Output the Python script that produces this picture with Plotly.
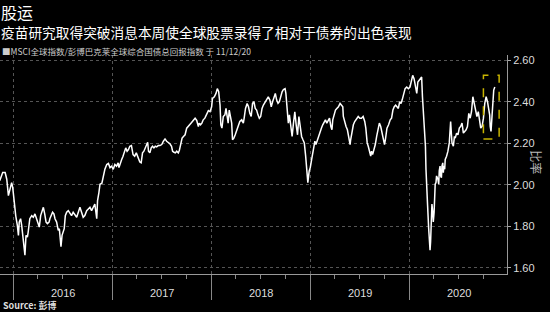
import plotly.graph_objects as go

# ---- data ----
dates = [
"2015-11-12","2015-11-23","2015-12-02","2015-12-08","2015-12-14","2015-12-20","2015-12-26","2015-12-30",
"2016-01-04","2016-01-10","2016-01-16","2016-01-20","2016-01-23","2016-01-28","2016-02-01","2016-02-05",
"2016-02-09","2016-02-13","2016-02-17","2016-02-22","2016-02-25","2016-03-02","2016-03-09","2016-03-15",
"2016-03-21","2016-03-27","2016-04-02","2016-04-06","2016-04-11","2016-04-16","2016-04-21","2016-04-26",
"2016-05-01","2016-05-06","2016-05-12","2016-05-15","2016-05-21","2016-05-25","2016-05-30","2016-06-03",
"2016-06-09","2016-06-15","2016-06-19","2016-06-21","2016-06-25","2016-06-29","2016-07-04","2016-07-07",
"2016-07-11","2016-07-16","2016-07-22","2016-07-28","2016-08-03","2016-08-09","2016-08-16","2016-08-22",
"2016-08-28","2016-09-03","2016-09-09","2016-09-15","2016-09-21","2016-09-28","2016-10-04","2016-10-10",
"2016-10-16","2016-10-22","2016-10-28","2016-11-04","2016-11-07","2016-11-12","2016-11-16","2016-11-23",
"2016-11-28","2016-12-04","2016-12-11","2016-12-17","2016-12-23","2016-12-29",
"2017-01-04","2017-01-10","2017-01-16","2017-01-22","2017-01-25","2017-01-30","2017-02-04","2017-02-09",
"2017-02-14","2017-02-19","2017-02-24","2017-03-01","2017-03-06","2017-03-12","2017-03-18","2017-03-24",
"2017-03-30","2017-04-05","2017-04-12","2017-04-17","2017-04-22","2017-04-27","2017-05-02","2017-05-07",
"2017-05-11","2017-05-14","2017-05-19","2017-05-24","2017-05-29","2017-06-03","2017-06-08","2017-06-13",
"2017-06-19","2017-06-25","2017-07-02","2017-07-08","2017-07-14","2017-07-20","2017-07-26","2017-08-01",
"2017-08-07","2017-08-11","2017-08-16","2017-08-21","2017-08-26","2017-09-01","2017-09-05","2017-09-10",
"2017-09-15","2017-09-20","2017-09-26","2017-10-02","2017-10-08","2017-10-14","2017-10-20","2017-10-26",
"2017-11-02","2017-11-08","2017-11-14","2017-11-17","2017-11-22","2017-11-27","2017-12-02","2017-12-08",
"2017-12-14","2017-12-21","2017-12-27",
"2018-01-02","2018-01-05","2018-01-12","2018-01-18","2018-01-23","2018-01-28","2018-02-02","2018-02-05",
"2018-02-09","2018-02-14","2018-02-20","2018-02-24","2018-03-01","2018-03-04","2018-03-08","2018-03-13",
"2018-03-17","2018-03-20","2018-03-25","2018-03-30","2018-04-04","2018-04-10","2018-04-16","2018-04-23",
"2018-04-29","2018-05-02","2018-05-07","2018-05-13","2018-05-18","2018-05-23","2018-05-28","2018-06-02",
"2018-06-07","2018-06-12","2018-06-17","2018-06-22","2018-06-27","2018-07-02","2018-07-07","2018-07-12",
"2018-07-18","2018-07-24","2018-07-30","2018-08-05","2018-08-10","2018-08-15","2018-08-20","2018-08-25",
"2018-08-30","2018-09-04","2018-09-09","2018-09-14","2018-09-19","2018-09-24","2018-09-30","2018-10-03",
"2018-10-08","2018-10-12","2018-10-16","2018-10-21","2018-10-26","2018-10-31","2018-11-05","2018-11-10",
"2018-11-15","2018-11-20","2018-11-25","2018-11-30","2018-12-05","2018-12-10","2018-12-15","2018-12-20",
"2018-12-23","2018-12-28",
"2019-01-01","2019-01-06","2019-01-09","2019-01-14","2019-01-18","2019-01-22","2019-01-27","2019-02-01",
"2019-02-06","2019-02-11","2019-02-16","2019-02-21","2019-02-26","2019-03-03","2019-03-08","2019-03-13",
"2019-03-18","2019-03-22","2019-03-25","2019-03-30","2019-04-04","2019-04-09","2019-04-15","2019-04-21",
"2019-04-26","2019-05-01","2019-05-03","2019-05-08","2019-05-13","2019-05-18","2019-05-23","2019-05-28",
"2019-05-30","2019-06-04","2019-06-09","2019-06-14","2019-06-21","2019-06-27","2019-07-03","2019-07-09",
"2019-07-15","2019-07-21","2019-07-25","2019-07-30","2019-08-03","2019-08-07","2019-08-12","2019-08-15",
"2019-08-19","2019-08-24","2019-08-29","2019-09-03","2019-09-08","2019-09-13","2019-09-18","2019-09-23",
"2019-09-28","2019-10-02","2019-10-06","2019-10-11","2019-10-17","2019-10-23","2019-10-28","2019-11-02",
"2019-11-07","2019-11-12","2019-11-17","2019-11-22","2019-11-27","2019-12-02","2019-12-06","2019-12-11",
"2019-12-17","2019-12-23","2019-12-29",
"2020-01-04","2020-01-10","2020-01-14","2020-01-19","2020-01-24","2020-01-29","2020-02-02","2020-02-07",
"2020-02-11","2020-02-16","2020-02-19","2020-02-23","2020-02-27","2020-03-01","2020-03-03","2020-03-06",
"2020-03-09","2020-03-13","2020-03-15","2020-03-18","2020-03-20","2020-03-23","2020-03-25","2020-03-28",
"2020-03-30","2020-04-02","2020-04-04","2020-04-06","2020-04-09","2020-04-11","2020-04-16","2020-04-19",
"2020-04-21","2020-04-24","2020-04-26","2020-04-29","2020-05-01","2020-05-04","2020-05-06","2020-05-08",
"2020-05-11","2020-05-13","2020-05-18","2020-05-23","2020-05-28","2020-05-31","2020-06-02","2020-06-05",
"2020-06-07","2020-06-12","2020-06-16","2020-06-19","2020-06-24","2020-06-29","2020-07-04","2020-07-09",
"2020-07-14","2020-07-19","2020-07-24","2020-07-29","2020-08-03","2020-08-08","2020-08-13","2020-08-18",
"2020-08-23","2020-08-28","2020-09-02","2020-09-07","2020-09-12","2020-09-17","2020-09-21","2020-09-26",
"2020-10-01","2020-10-06","2020-10-11","2020-10-16","2020-10-20","2020-10-24","2020-10-26","2020-10-29",
"2020-11-02","2020-11-06","2020-11-08","2020-11-12",
]

ratio = [
2.020,2.059,2.059,2.027,1.948,1.987,2.011,1.987,
1.916,1.852,1.805,1.757,1.821,1.837,1.805,1.749,
1.710,1.662,1.757,1.749,1.773,1.837,1.852,1.844,
1.860,1.837,1.821,1.797,1.852,1.868,1.892,1.860,
1.821,1.813,1.821,1.837,1.852,1.868,1.860,1.837,
1.821,1.781,1.789,1.757,1.702,1.757,1.773,1.789,
1.852,1.868,1.876,1.860,1.852,1.868,1.852,1.844,
1.868,1.892,1.868,1.844,1.852,1.876,1.884,1.892,
1.876,1.892,1.908,1.837,1.924,1.963,2.003,2.008,
2.043,2.075,2.098,2.103,2.083,2.090,
2.075,2.098,2.090,2.106,2.083,2.106,2.122,2.138,
2.162,2.178,2.162,2.170,2.186,2.189,2.146,2.138,
2.154,2.130,2.110,2.106,2.154,2.162,2.178,2.198,
2.205,2.162,2.154,2.178,2.186,2.178,2.186,2.183,
2.189,2.189,2.194,2.210,2.221,2.210,2.205,2.198,
2.186,2.162,2.157,2.154,2.162,2.154,2.167,2.202,
2.225,2.233,2.241,2.273,2.284,2.289,2.300,2.310,
2.321,2.310,2.281,2.297,2.289,2.297,2.313,2.321,
2.337,2.357,2.352,
2.376,2.416,2.424,2.440,2.463,2.448,2.384,2.289,
2.273,2.329,2.337,2.368,2.329,2.297,2.360,2.321,
2.297,2.217,2.225,2.241,2.257,2.281,2.305,2.313,
2.297,2.321,2.368,2.392,2.376,2.344,2.329,2.392,
2.400,2.368,2.360,2.337,2.321,2.329,2.368,2.384,
2.400,2.408,2.424,2.408,2.376,2.400,2.424,2.440,
2.408,2.392,2.400,2.432,2.448,2.459,2.463,2.440,
2.344,2.297,2.337,2.273,2.233,2.297,2.352,2.289,
2.241,2.329,2.273,2.233,2.217,2.202,2.138,2.075,
2.011,2.067,
2.083,2.122,2.146,2.186,2.210,2.194,2.217,2.233,
2.257,2.273,2.289,2.305,2.313,2.297,2.313,2.321,
2.281,2.265,2.313,2.337,2.360,2.368,2.376,2.392,
2.384,2.376,2.329,2.297,2.281,2.265,2.233,2.194,
2.217,2.265,2.289,2.305,2.321,2.329,2.321,2.321,
2.329,2.305,2.273,2.202,2.186,2.162,2.138,2.162,
2.146,2.170,2.194,2.233,2.273,2.297,2.281,2.249,
2.210,2.194,2.225,2.273,2.289,2.313,2.321,2.360,
2.376,2.384,2.376,2.368,2.400,2.392,2.408,2.440,
2.463,2.471,2.463,
2.471,2.511,2.527,2.511,2.463,2.440,2.495,2.503,
2.511,2.519,2.424,2.337,2.202,2.186,2.075,1.948,
1.900,1.789,1.749,1.686,1.725,1.837,1.908,1.868,
1.821,1.868,1.948,2.003,2.011,2.043,2.027,2.003,
2.067,2.090,2.043,2.035,2.090,2.106,2.059,2.090,
2.075,2.122,2.138,2.162,2.202,2.249,2.305,2.241,
2.202,2.186,2.233,2.225,2.249,2.241,2.273,2.281,
2.297,2.249,2.257,2.265,2.281,2.344,2.321,2.352,
2.424,2.392,2.376,2.329,2.352,2.305,2.273,2.281,
2.321,2.392,2.424,2.400,2.360,2.337,2.281,2.257,
2.337,2.408,2.456,2.471,
]

year_labels = ["2016", "2017", "2018", "2019", "2020"]
y_ticks = [1.60, 1.80, 2.00, 2.20, 2.40, 2.60]

# highlight box (dates / values)
box_x = ["2020-10-01", "2020-11-28"]
box_y = [2.221, 2.527]

title = "股运"
subtitle = "疫苗研究取得突破消息本周使全球股票录得了相对于债券的出色表现"
legend_text = "■MSCI全球指数/彭博巴克莱全球综合国债总回报指数 于 11/12/20"
source_text = "<b>Source: 彭博</b>"
y_title = "比率"

CJK = "Noto Sans CJK SC"
LAT = "Liberation Sans, Arial"

fig = go.Figure()
fig.add_trace(go.Scatter(
    x=dates, y=ratio, mode="lines",
    line=dict(color="#ffffff", width=1.5),
    showlegend=False, hoverinfo="skip",
))

fig.add_shape(type="rect", xref="x", yref="y",
              x0=box_x[0], x1=box_x[1], y0=box_y[0], y1=box_y[1],
              line=dict(color="#c8b400", width=1.5, dash="dash"))

fig.update_layout(
    width=550, height=312,
    margin=dict(l=0, r=43, t=55, b=38),
    paper_bgcolor="#000000", plot_bgcolor="#000000",
    font=dict(family=LAT, color="#dddddd", size=11),
    xaxis=dict(
        range=["2015-11-13", "2020-12-27"],
        type="date",
        tick0="2016-01-01", dtick="M12",
        ticks="outside", ticklen=25, tickcolor="#888888", tickwidth=1,
        showticklabels=False,
        showgrid=True, gridcolor="#555555", griddash="dot", gridwidth=1,
        showline=True, linecolor="#999999", linewidth=1,
        zeroline=False,
        minor=dict(dtick="M3", tick0="2016-01-01", ticks="outside",
                   ticklen=4, tickcolor="#888888", showgrid=False),
    ),
    yaxis=dict(
        side="right",
        range=[1.571, 2.625],
        tickvals=y_ticks,
        tickformat=".2f",
        ticks="outside", ticklen=3, tickcolor="#aaaaaa",
        tickfont=dict(family=LAT, size=11, color="#dddddd"),
        showgrid=True, gridcolor="#555555", griddash="dot", gridwidth=1,
        showline=True, linecolor="#999999", linewidth=1,
        zeroline=False,
    ),
)

# year labels centred in each year
for yl in year_labels:
    fig.add_annotation(x=f"{yl}-07-02", y=0, xref="x", yref="paper",
                       text=yl, showarrow=False, yanchor="middle", yshift=-19,
                       font=dict(family=LAT, size=11, color="#dddddd"))

fig.add_annotation(x=0, y=1, xref="paper", yref="paper", xanchor="left", yanchor="middle",
                   xshift=0, yshift=43, text=title, showarrow=False, borderpad=0,
                   font=dict(family=CJK, size=16, color="#ffffff"))
fig.add_annotation(x=0, y=1, xref="paper", yref="paper", xanchor="left", yanchor="middle",
                   xshift=0, yshift=23, text=subtitle, showarrow=False, borderpad=0,
                   font=dict(family=CJK, size=13.7, color="#ffffff"))
fig.add_annotation(x=0, y=1, xref="paper", yref="paper", xanchor="left", yanchor="middle",
                   xshift=1, yshift=4, text=legend_text, showarrow=False, borderpad=0,
                   font=dict(family=CJK, size=8.5, color="#cccccc"))
fig.add_annotation(x=0, y=0, xref="paper", yref="paper", xanchor="left", yanchor="middle",
                   xshift=1, yshift=-31, text=source_text, showarrow=False,
                   font=dict(family=CJK, size=9, color="#dddddd"))
fig.add_annotation(x=1, y=0.51, xref="paper", yref="paper", xanchor="center", yanchor="middle",
                   xshift=30, text=y_title, showarrow=False, textangle=90,
                   font=dict(family=CJK, size=12, color="#bbbbbb"))

fig.write_html("out.html")
